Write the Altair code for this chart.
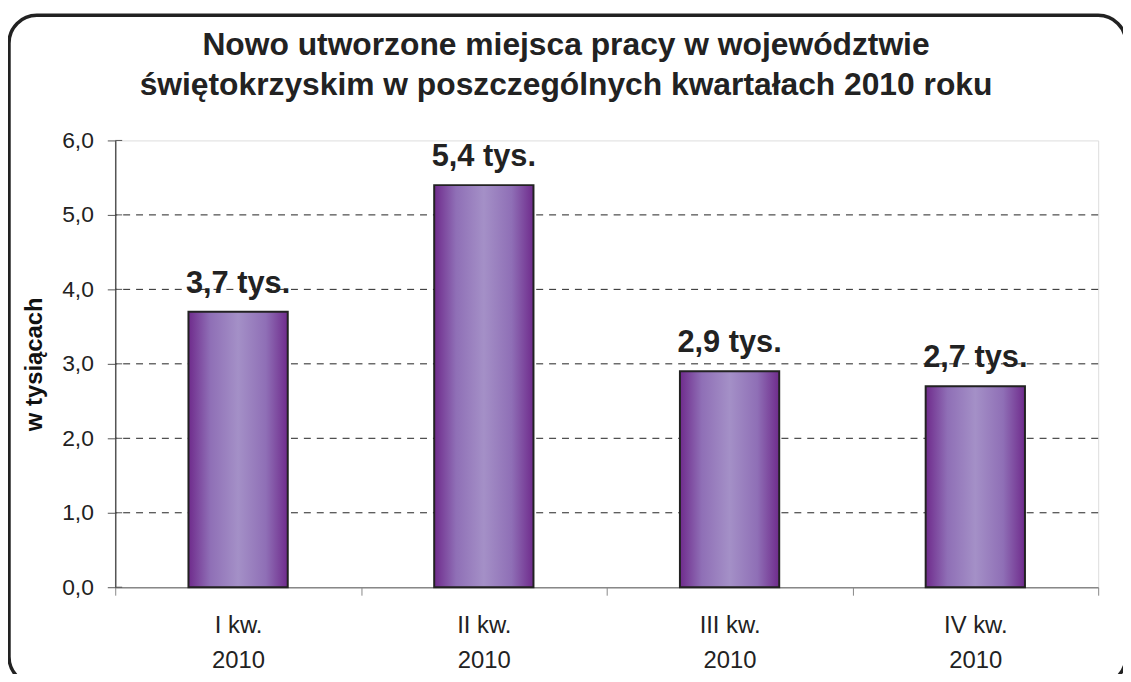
import altair as alt
import pandas as pd

quarters = ["I kw.|2010", "II kw.|2010", "III kw.|2010", "IV kw.|2010"]
values = [3.7, 5.4, 2.9, 2.7]
grid_values = [1, 2, 3, 4, 5]
y_ticks = [0, 1, 2, 3, 4, 5, 6]
title_lines = ["Nowo utworzone miejsca pracy w województwie",
               "świętokrzyskim w poszczególnych kwartałach 2010 roku"]

df = pd.DataFrame({"q": quarters, "v": values})
grid_df = pd.DataFrame({"g": grid_values})
ytick_df = pd.DataFrame({"t": y_ticks})

FONT = "Liberation Sans"

x_enc = alt.X(
    "q:N",
    sort=quarters,
    scale=alt.Scale(paddingInner=0, paddingOuter=0),
    axis=alt.Axis(
        title=None,
        labelExpr="datum.value ? split(datum.value, '|') : ''",
        labelAngle=0,
        labelFont=FONT,
        labelFontSize=24,
        labelColor="#222222",
        labelLineHeight=35,
        labelPadding=19,
        tickBand="extent",
        tickSize=8,
        tickColor="#888888",
        domainColor="#888888",
        domainWidth=1.5,
    ),
)

y_scale = alt.Scale(domain=[0, 6], nice=False)
y_enc = alt.Y(
    "v:Q",
    scale=y_scale,
    axis=alt.Axis(
        title="w tysiącach",
        titleFont=FONT,
        titleFontSize=24,
        titleFontWeight="bold",
        titleColor="#111111",
        titlePadding=15,
        values=y_ticks,
        labelExpr="replace(format(datum.value, '.1f'), '.', ',')",
        labelFont=FONT,
        labelFontSize=23,
        labelColor="#222222",
        labelPadding=14,
        tickSize=8,
        tickColor="#555555",
        domainColor="#555555",
        domainWidth=1.5,
        grid=False,
    ),
)

gradient = alt.Gradient(
    gradient="linear",
    x1=0, x2=1, y1=0, y2=0,
    stops=[
        alt.GradientStop(color="#6f2b8c", offset=0),
        alt.GradientStop(color="#8f6fb6", offset=0.22),
        alt.GradientStop(color="#a490c7", offset=0.5),
        alt.GradientStop(color="#8f6fb6", offset=0.78),
        alt.GradientStop(color="#6f2b8c", offset=1),
    ],
)

grid = alt.Chart(grid_df).mark_rule(
    color="#222222", strokeDash=[7, 6], strokeWidth=1
).encode(y=alt.Y("g:Q", scale=y_scale))

inner_ticks = alt.Chart(ytick_df).mark_rule(
    color="#555555", strokeWidth=1
).encode(y=alt.Y("t:Q", scale=y_scale), x=alt.value(0), x2=alt.value(7))

bars = alt.Chart(df).mark_bar(
    fill=gradient, stroke="#222222", strokeWidth=2,
    width=alt.RelativeBandSize(0.404)
).encode(x=x_enc, y=y_enc)

labels = alt.Chart(df).transform_calculate(
    lab="replace(format(datum.v, '.1f'), '.', ',') + ' tys.'"
).mark_text(
    font=FONT, fontSize=31, fontWeight="bold", color="#222222",
    baseline="alphabetic", dy=-19
).encode(x=alt.X("q:N", sort=quarters), y=alt.Y("v:Q", scale=y_scale), text="lab:N")

title1 = alt.Chart(grid_df.head(1)).mark_text(
    text=title_lines[0], font=FONT, fontSize=32, fontWeight="bold",
    color="#222222", align="center", baseline="alphabetic", clip=False
).encode(x=alt.value(454), y=alt.value(-86))

title2 = alt.Chart(grid_df.head(1)).mark_text(
    text=title_lines[1], font=FONT, fontSize=32, fontWeight="bold",
    color="#222222", align="center", baseline="alphabetic", clip=False
).encode(x=alt.value(454), y=alt.value(-46))

frame = alt.Chart(grid_df.head(1)).mark_rect(
    fill=None, stroke="#222222", strokeWidth=3.5, cornerRadius=28, clip=False
).encode(
    x=alt.value(-107), x2=alt.value(1018),
    y=alt.value(-126), y2=alt.value(548),
)

chart = alt.layer(grid, inner_ticks, bars, labels, title1, title2, frame).properties(
    width=990,
    height=450,
    autosize=alt.AutoSizeParams(type="none"),
    padding={"left": 108, "top": 131, "right": 25, "bottom": 85},
).configure_view(
    stroke="#999999", strokeWidth=1.5
).configure(background="white")

chart.save("out.html", embed_options={"renderer": "svg", "actions": False})
